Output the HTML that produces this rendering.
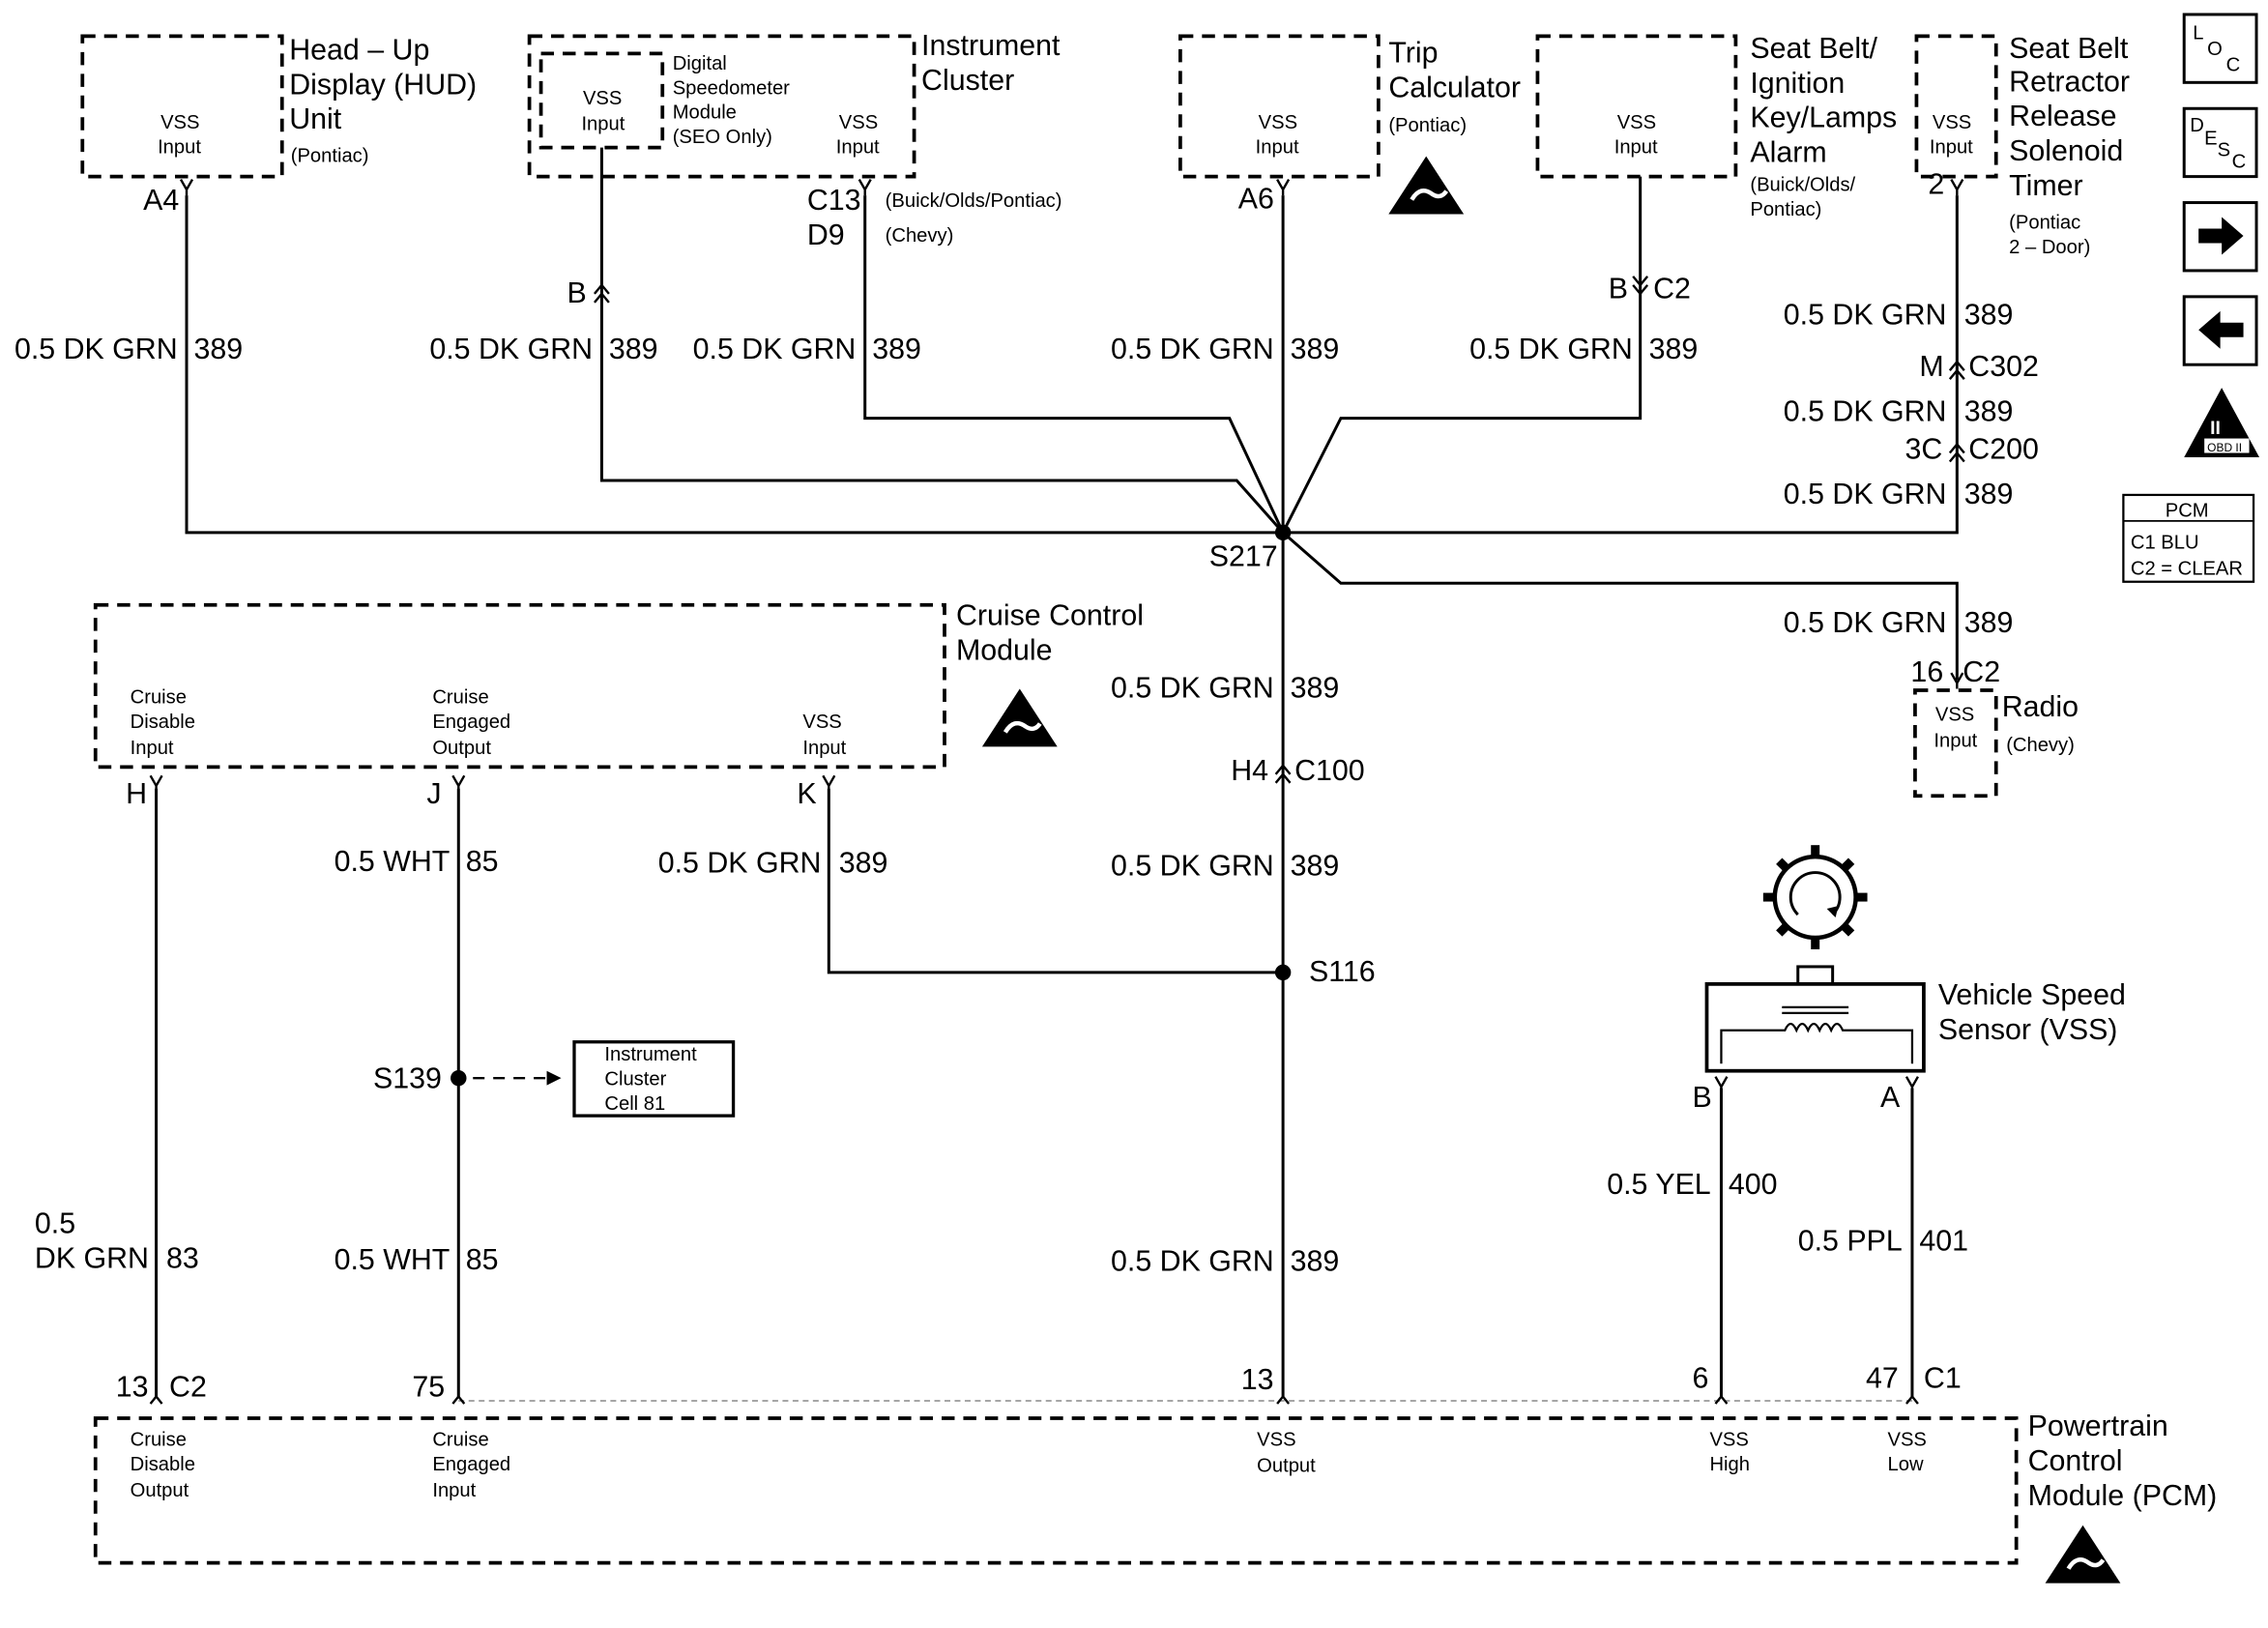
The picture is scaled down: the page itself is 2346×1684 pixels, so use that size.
<!DOCTYPE html>
<html><head><meta charset="utf-8"><style>
html,body{margin:0;padding:0;background:#fff;}
svg{display:block;}
text{font-family:"Liberation Sans",sans-serif;fill:#000;}
.b{font-size:20.3px;}
.s{font-size:13.5px;}
.w{stroke:#000;stroke-width:2;fill:none;}
.d{stroke:#000;stroke-width:2.5;fill:none;stroke-dasharray:9,6;}
</style></head><body>
<svg width="2346" height="1684" viewBox="0 0 1568 1125" preserveAspectRatio="none" xmlns="http://www.w3.org/2000/svg">
<defs>
<g id="y"><path d="M-4,-7 L0,0 L4,-7 M0,0 L0,4" stroke="#000" stroke-width="1.6" fill="none"/></g>
<g id="dc"><path d="M-5,3 L0,-3 L5,3 M-5,9 L0,3 L5,9" stroke="#000" stroke-width="1.6" fill="none"/></g>
<g id="dcd"><path d="M-5,-3 L0,3 L5,-3 M-5,-9 L0,-3 L5,-9" stroke="#000" stroke-width="1.6" fill="none"/></g>
<g id="esd"><path d="M0,-24 L26,16 L-26,16 Z" fill="#000"/><path d="M-10,6 q6,-10 14,-4 q6,4 10,-2" stroke="#fff" stroke-width="3" fill="none"/></g>
</defs>

<rect x="57" y="25" width="138" height="97" class="d"/>
<text x="111" y="89" class="s">VSS</text><text x="109" y="106" class="s">Input</text>
<text x="200" y="41" class="b">Head – Up</text><text x="200" y="65" class="b">Display (HUD)</text><text x="200" y="89" class="b">Unit</text><text x="201" y="112" class="s">(Pontiac)</text>
<use href="#y" x="129" y="131"/><text x="99" y="145" class="b">A4</text>
<text x="10" y="248" class="b">0.5 DK GRN</text><text x="134" y="248" class="b">389</text>

<rect x="366" y="25" width="266" height="97" class="d"/>
<rect x="374" y="37" width="84" height="65" class="d"/>
<text x="403" y="72" class="s">VSS</text><text x="402" y="90" class="s">Input</text>
<text x="465" y="48" class="s">Digital</text><text x="465" y="65" class="s">Speedometer</text><text x="465" y="82" class="s">Module</text><text x="465" y="99" class="s">(SEO Only)</text>
<text x="580" y="89" class="s">VSS</text><text x="578" y="106" class="s">Input</text>
<text x="637" y="38" class="b">Instrument</text><text x="637" y="62" class="b">Cluster</text>
<use href="#dc" x="416" y="200"/><text x="392" y="209" class="b">B</text>
<text x="297" y="248" class="b">0.5 DK GRN</text><text x="421" y="248" class="b">389</text>
<use href="#y" x="598" y="131"/><text x="558" y="145" class="b">C13</text><text x="558" y="169" class="b">D9</text>
<text x="612" y="143" class="s">(Buick/Olds/Pontiac)</text><text x="612" y="167" class="s">(Chevy)</text>
<text x="479" y="248" class="b">0.5 DK GRN</text><text x="603" y="248" class="b">389</text>

<rect x="816" y="25" width="137" height="97" class="d"/>
<text x="870" y="89" class="s">VSS</text><text x="868" y="106" class="s">Input</text>
<text x="960" y="43" class="b">Trip</text><text x="960" y="67" class="b">Calculator</text><text x="960" y="91" class="s">(Pontiac)</text>
<use href="#esd" x="986" y="132"/>
<use href="#y" x="887" y="131"/><text x="856" y="144" class="b">A6</text>
<text x="768" y="248" class="b">0.5 DK GRN</text><text x="892" y="248" class="b">389</text>

<rect x="1063" y="25" width="137" height="97" class="d"/>
<text x="1118" y="89" class="s">VSS</text><text x="1116" y="106" class="s">Input</text>
<text x="1210" y="40" class="b">Seat Belt/</text><text x="1210" y="64" class="b">Ignition</text><text x="1210" y="88" class="b">Key/Lamps</text><text x="1210" y="112" class="b">Alarm</text>
<text x="1210" y="132" class="s">(Buick/Olds/</text><text x="1210" y="149" class="s">Pontiac)</text>
<use href="#dcd" x="1134" y="200"/><text x="1112" y="206" class="b">B</text><text x="1143" y="206" class="b">C2</text>
<text x="1016" y="248" class="b">0.5 DK GRN</text><text x="1140" y="248" class="b">389</text>

<rect x="1325" y="25" width="55" height="97" class="d"/>
<text x="1336" y="89" class="s">VSS</text><text x="1334" y="106" class="s">Input</text>
<text x="1389" y="40" class="b">Seat Belt</text><text x="1389" y="63" class="b">Retractor</text><text x="1389" y="87" class="b">Release</text><text x="1389" y="111" class="b">Solenoid</text><text x="1389" y="135" class="b">Timer</text>
<text x="1389" y="158" class="s">(Pontiac</text><text x="1389" y="175" class="s">2 – Door)</text>
<use href="#y" x="1353" y="131"/><text x="1333" y="134" class="b">2</text>
<text x="1233" y="224" class="b">0.5 DK GRN</text><text x="1358" y="224" class="b">389</text>
<use href="#dc" x="1353" y="253"/><text x="1327" y="260" class="b">M</text><text x="1361" y="260" class="b">C302</text>
<text x="1233" y="291" class="b">0.5 DK GRN</text><text x="1358" y="291" class="b">389</text>
<use href="#dc" x="1353" y="310"/><text x="1317" y="317" class="b">3C</text><text x="1361" y="317" class="b">C200</text>
<text x="1233" y="348" class="b">0.5 DK GRN</text><text x="1358" y="348" class="b">389</text>

<path class="w" d="M129,135 V368 H1353 V135"/>
<path class="w" d="M416,102 V332 H855 L887,368"/>
<path class="w" d="M598,135 V289 H850 L887,368"/>
<path class="w" d="M887,135 V965"/>
<path class="w" d="M1134,122 V289 H927 L887,368"/>
<path class="w" d="M887,368 L927,403 H1353 V470"/>
<circle cx="887" cy="368" r="5.5"/>
<text x="836" y="391" class="b">S217</text>

<text x="1233" y="437" class="b">0.5 DK GRN</text><text x="1358" y="437" class="b">389</text>
<use href="#y" x="1353" y="472"/><text x="1321" y="471" class="b">16</text><text x="1357" y="471" class="b">C2</text>
<rect x="1324" y="477" width="56" height="73" class="d"/>
<text x="1338" y="498" class="s">VSS</text><text x="1337" y="516" class="s">Input</text>
<text x="1384" y="495" class="b">Radio</text><text x="1387" y="519" class="s">(Chevy)</text>

<text x="768" y="482" class="b">0.5 DK GRN</text><text x="892" y="482" class="b">389</text>
<use href="#dc" x="887" y="532"/><text x="851" y="539" class="b">H4</text><text x="895" y="539" class="b">C100</text>
<text x="768" y="605" class="b">0.5 DK GRN</text><text x="892" y="605" class="b">389</text>
<circle cx="887" cy="672" r="5.5"/><text x="905" y="678" class="b">S116</text>
<text x="768" y="878" class="b">0.5 DK GRN</text><text x="892" y="878" class="b">389</text>

<rect x="66" y="418" width="587" height="112" class="d"/>
<text x="90" y="486" class="s">Cruise</text><text x="90" y="503" class="s">Disable</text><text x="90" y="521" class="s">Input</text>
<text x="299" y="486" class="s">Cruise</text><text x="299" y="503" class="s">Engaged</text><text x="299" y="521" class="s">Output</text>
<text x="555" y="503" class="s">VSS</text><text x="555" y="521" class="s">Input</text>
<text x="661" y="432" class="b">Cruise Control</text><text x="661" y="456" class="b">Module</text>
<use href="#esd" x="705" y="500"/>
<use href="#y" x="108" y="543"/><text x="87" y="555" class="b">H</text>
<use href="#y" x="317" y="543"/><text x="295" y="555" class="b">J</text>
<use href="#y" x="573" y="543"/><text x="551" y="555" class="b">K</text>
<path class="w" d="M108,545 V965"/>
<path class="w" d="M317,545 V965"/>
<path class="w" d="M573,545 V672 H887"/>
<text x="231" y="602" class="b">0.5 WHT</text><text x="322" y="602" class="b">85</text>
<text x="455" y="603" class="b">0.5 DK GRN</text><text x="580" y="603" class="b">389</text>
<circle cx="317" cy="745" r="5.5"/><text x="258" y="752" class="b">S139</text>
<path d="M327,745 H380" stroke="#000" stroke-width="1.6" stroke-dasharray="8,6"/>
<path d="M378,740 L388,745 L378,750 Z"/>
<rect x="397" y="720" width="110" height="51" fill="none" stroke="#000" stroke-width="2.2"/>
<text x="418" y="733" class="s">Instrument</text><text x="418" y="750" class="s">Cluster</text><text x="418" y="767" class="s">Cell 81</text>
<text x="24" y="852" class="b">0.5</text><text x="24" y="876" class="b">DK GRN</text><text x="115" y="876" class="b">83</text>
<text x="231" y="877" class="b">0.5 WHT</text><text x="322" y="877" class="b">85</text>

<g transform="translate(1255,620)">
<circle r="28" fill="none" stroke="#000" stroke-width="3"/>
<path d="M-12,12 A17,17 0 1 1 12,12" fill="none" stroke="#000" stroke-width="2"/>
<path d="M8,8 L14,14 L16,6 Z"/>
<g stroke="#000" stroke-width="6">
<path d="M0,-28 V-36"/><path d="M0,28 V36"/><path d="M-28,0 H-36"/><path d="M28,0 H36"/>
<path d="M20,-20 L25,-25"/><path d="M-20,-20 L-25,-25"/><path d="M20,20 L25,25"/><path d="M-20,20 L-25,25"/>
</g>
</g>
<rect x="1243" y="668" width="24" height="12" fill="none" stroke="#000" stroke-width="2"/>
<rect x="1180" y="680" width="150" height="60" fill="none" stroke="#000" stroke-width="2.5"/>
<path d="M1232,696 H1278 M1232,700 H1278" stroke="#000" stroke-width="1.5"/>
<path d="M1190,735 V712 H1234 q4,-9 8,0 q4,-9 8,0 q4,-9 8,0 q4,-9 8,0 q4,-9 8,0 H1322 V735" stroke="#000" stroke-width="1.5" fill="none"/>
<text x="1340" y="694" class="b">Vehicle Speed</text><text x="1340" y="718" class="b">Sensor (VSS)</text>
<use href="#y" x="1190" y="751"/><text x="1170" y="765" class="b">B</text>
<use href="#y" x="1322" y="751"/><text x="1300" y="765" class="b">A</text>
<path class="w" d="M1190,752 V965"/>
<path class="w" d="M1322,752 V965"/>
<text x="1111" y="825" class="b">0.5 YEL</text><text x="1195" y="825" class="b">400</text>
<text x="1243" y="864" class="b">0.5 PPL</text><text x="1327" y="864" class="b">401</text>

<path d="M317,968 H1322" stroke="#888" stroke-width="1" stroke-dasharray="4,3"/>
<text x="80" y="965" class="b">13</text><text x="117" y="965" class="b">C2</text>
<text x="285" y="965" class="b">75</text>
<text x="858" y="960" class="b">13</text>
<text x="1170" y="959" class="b">6</text><text x="1290" y="959" class="b">47</text><text x="1330" y="959" class="b">C1</text>
<g stroke="#000" stroke-width="1.6" fill="none">
<path d="M104,970 L108,965 L112,970"/><path d="M313,970 L317,965 L321,970"/><path d="M883,970 L887,965 L891,970"/><path d="M1186,970 L1190,965 L1194,970"/><path d="M1318,970 L1322,965 L1326,970"/>
</g>
<rect x="66" y="980" width="1328" height="100" class="d"/>
<text x="90" y="999" class="s">Cruise</text><text x="90" y="1016" class="s">Disable</text><text x="90" y="1034" class="s">Output</text>
<text x="299" y="999" class="s">Cruise</text><text x="299" y="1016" class="s">Engaged</text><text x="299" y="1034" class="s">Input</text>
<text x="869" y="999" class="s">VSS</text><text x="869" y="1017" class="s">Output</text>
<text x="1182" y="999" class="s">VSS</text><text x="1182" y="1016" class="s">High</text>
<text x="1305" y="999" class="s">VSS</text><text x="1305" y="1016" class="s">Low</text>
<text x="1402" y="992" class="b">Powertrain</text><text x="1402" y="1016" class="b">Control</text><text x="1402" y="1040" class="b">Module (PCM)</text>
<use href="#esd" x="1440" y="1078"/>

<g fill="none" stroke="#000" stroke-width="2">
<rect x="1510" y="10" width="50" height="47"/><rect x="1510" y="75" width="50" height="47"/>
<rect x="1510" y="140" width="50" height="47"/><rect x="1510" y="205" width="50" height="47"/>
</g>
<text x="1516" y="27" class="s">L</text><text x="1526" y="38" class="s">O</text><text x="1539" y="49" class="s">C</text>
<text x="1514" y="91" class="s">D</text><text x="1524" y="100" class="s">E</text><text x="1533" y="108" class="s">S</text><text x="1543" y="116" class="s">C</text>
<path d="M1520,158 H1536 V150 L1551,163 L1536,176 V168 H1520 Z"/>
<path d="M1551,223 H1535 V215 L1520,228 L1535,241 V233 H1551 Z"/>
<path d="M1536,268 L1562,316 L1510,316 Z"/>
<rect x="1524" y="303" width="31" height="10" fill="#fff"/>
<text x="1526" y="312" style="font-size:8px">OBD II</text>
<text x="1528" y="300" style="font-size:13px;fill:#fff;font-weight:bold">II</text>
<rect x="1468" y="342" width="90" height="60" fill="none" stroke="#000" stroke-width="1.5"/>
<path d="M1468,360 H1558" stroke="#000" stroke-width="1.2"/>
<text x="1497" y="357" class="s">PCM</text>
<text x="1473" y="379" class="s">C1   BLU</text>
<text x="1473" y="397" class="s">C2 = CLEAR</text>
</svg>
</body></html>
